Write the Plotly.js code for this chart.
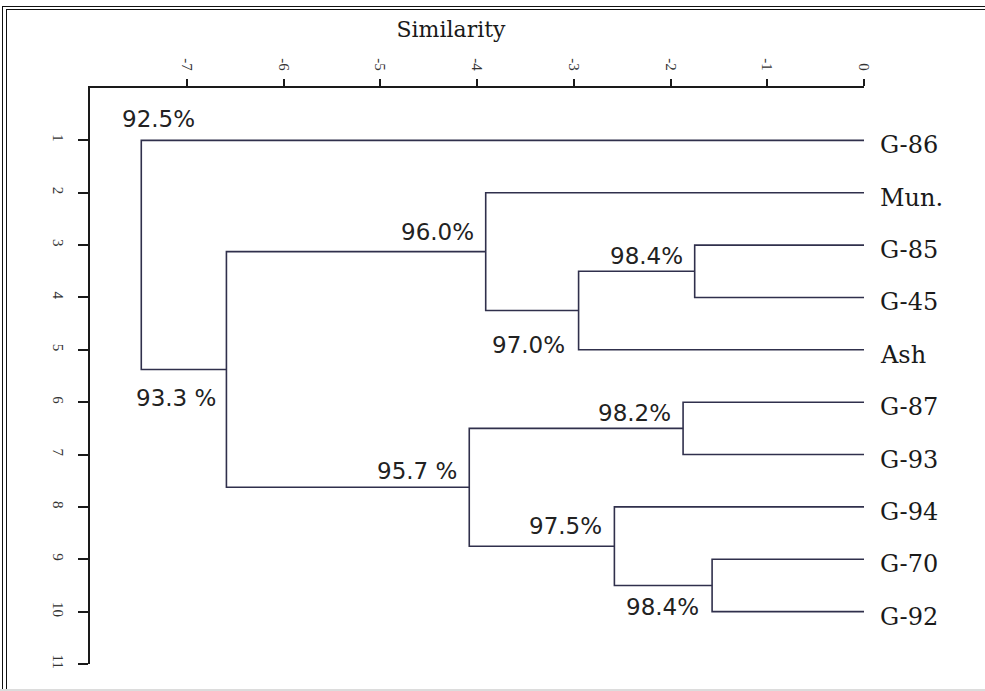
<!DOCTYPE html>
<html>
<head>
<meta charset="utf-8">
<script src="https://cdn.plot.ly/plotly-3.0.1.min.js"></script>
<style>
html,body{margin:0;padding:0;background:#fff;overflow:hidden;}
#chart{position:absolute;left:0;top:0;width:985px;height:691px;}
.frame{position:absolute;pointer-events:none;border-left:1.5px solid #111;border-top:1.5px solid #111;width:1200px;height:900px;}
#f1{left:2px;top:5.5px;}
#f2{left:6px;top:9px;}
#fb{position:absolute;left:0;top:689px;width:985px;height:1.5px;background:#dcdcdc;pointer-events:none;}
</style>
</head>
<body>
<div id="chart"></div>
<div class="frame" id="f1"></div>
<div class="frame" id="f2"></div>
<div id="fb"></div>
<script>
// ---- data ----
const leaves = ['G-86','Mun.','G-85','G-45','Ash','G-87','G-93','G-94','G-70','G-92'];
const leafRows = [1,2,3,4,5,6,7,8,9,10];
// merges: node n(i+1) joins mergeLeft[i] and mergeRight[i] at mergeHeight[i]
const mergeLeft  = ['G-85','n1','Mun.','G-87','G-70','G-94','n4','n3','G-86'];
const mergeRight = ['G-45','Ash','n2','G-93','G-92','n5','n6','n7','n8'];
const mergeHeight = [-1.75,-2.95,-3.91,-1.87,-1.57,-2.58,-4.08,-6.59,-7.47];
const mergeLabels = ['98.4%','97.0%','96.0%','98.2%','98.4%','97.5%','95.7 %','93.3 %','92.5%'];
const xTickVals = [-7,-6,-5,-4,-3,-2,-1,0];
const xTickText = ['-7','-6','-5','-4','-3','-2','-1','0'];
const yTickVals = [1,2,3,4,5,6,7,8,9,10,11];
const yTickText = ['1','2','3','4','5','6','7','8','9','10','11'];

// ---- label placement (pixels; styling only) ----
const labelPlace = [
  {anchor:'right', dx:-10,  dy:-15.5},
  {anchor:'right', dx:-11.5,dy:34},
  {anchor:'right', dx:-10,  dy:-20},
  {anchor:'right', dx:-10,  dy:-15.5},
  {anchor:'right', dx:-11.5,dy:22},
  {anchor:'right', dx:-10.5,dy:-20},
  {anchor:'right', dx:-10,  dy:-16},
  {anchor:'right', dx:-8,   dy:29},
  {anchor:'center',dx:17.5, dy:-136}
];

// ---- build dendrogram geometry from data ----
const pos = {};
leaves.forEach((n,i)=>{ pos[n] = {x:0, y:leafRows[i]}; });
const lx = [], ly = [];
mergeHeight.forEach((h,i)=>{
  const L = pos[mergeLeft[i]], R = pos[mergeRight[i]];
  lx.push(L.x, h, h, R.x, null);
  ly.push(L.y, L.y, R.y, R.y, null);
  pos['n'+(i+1)] = {x:h, y:(L.y+R.y)/2};
});

const lineColor = '#30304c';
const traces = [{
  type:'scatter', mode:'lines', x:lx, y:ly,
  line:{color:lineColor, width:1.6}, hoverinfo:'skip', showlegend:false
}];

const annotations = [];
mergeLabels.forEach((t,i)=>{
  const p = pos['n'+(i+1)], pl = labelPlace[i];
  annotations.push({
    x:p.x, y:p.y, xref:'x', yref:'y', text:t, showarrow:false,
    xanchor:pl.anchor, yanchor:'middle', xshift:pl.dx, yshift:-pl.dy,
    font:{family:'DejaVu Sans', size:23, color:'#222'}
  });
});
leaves.forEach((n,i)=>{
  annotations.push({
    x:0, y:leafRows[i], xref:'x', yref:'y', text:n, showarrow:false,
    xanchor:'left', yanchor:'middle', xshift:14, yshift:-5,
    font:{family:'DejaVu Serif', size:24, color:'#1a1a1a'}
  });
});

const layout = {
  width:985, height:691,
  margin:{l:90, r:121, t:88, b:27},
  paper_bgcolor:'#fff', plot_bgcolor:'#fff',
  showlegend:false,
  title:{text:'Similarity', x:451/985, xref:'container', xanchor:'center',
         y:1-29/691, yref:'container', yanchor:'middle',
         font:{family:'DejaVu Serif', size:22, color:'#1a1a1a'}},
  xaxis:{
    side:'top', range:[-8,0], showgrid:false, zeroline:false,
    showline:true, linecolor:'#1a1a1a', linewidth:2,
    ticks:'outside', ticklen:7, tickwidth:2, tickcolor:'#1a1a1a',
    tickvals:xTickVals, ticktext:xTickText, tickangle:90,
    tickfont:{family:'Liberation Serif', size:15, color:'#333'},
    ticklabelstandoff:3, fixedrange:true
  },
  yaxis:{
    range:[11,0], showgrid:false, zeroline:false,
    showline:true, linecolor:'#1a1a1a', linewidth:2,
    ticks:'outside', ticklen:10, tickwidth:2, tickcolor:'#1a1a1a',
    tickvals:yTickVals, ticktext:yTickText, tickangle:90,
    tickfont:{family:'Liberation Serif', size:15, color:'#333'},
    ticklabelstandoff:7, fixedrange:true
  },
  annotations:annotations
};

Plotly.newPlot('chart', traces, layout, {staticPlot:true, displayModeBar:false});
</script>
</body>
</html>
